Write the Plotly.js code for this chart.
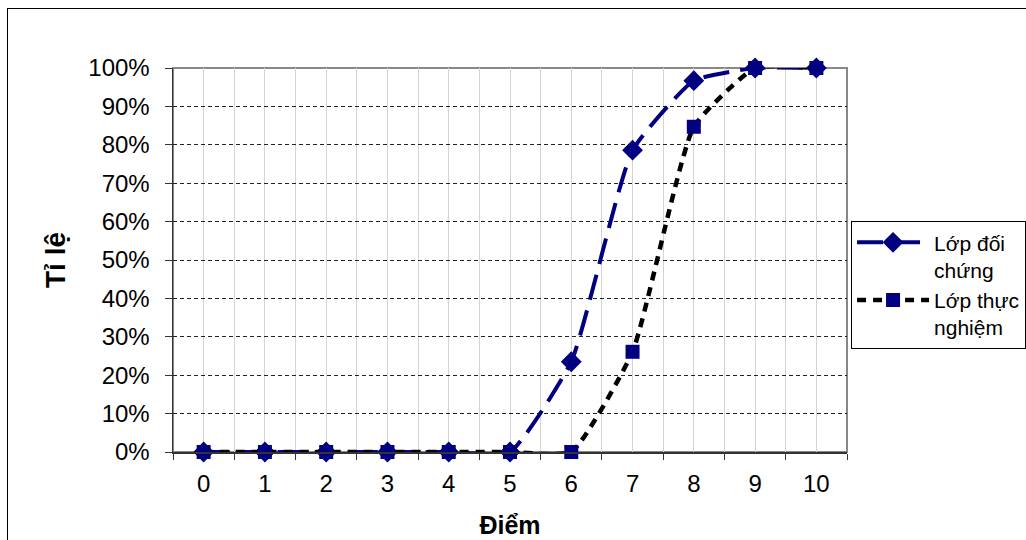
<!DOCTYPE html>
<html>
<head>
<meta charset="utf-8">
<script src="https://cdn.plot.ly/plotly-3.0.1.min.js"></script>
<style>
  html, body { margin:0; padding:0; background:#fff; overflow:hidden; }
  #wrap { position:relative; width:1026px; height:540px; }
  #chart { position:absolute; left:0; top:0; width:1026px; height:540px; }
  #frame { position:absolute; left:7px; top:8px; width:1030px; height:540px; border:1px solid #000; pointer-events:none; }
</style>
</head>
<body>
<div id="wrap"><div id="chart"></div><div id="frame"></div></div>
<script>
const categories = [0, 1, 2, 3, 4, 5, 6, 7, 8, 9, 10];
const seriesNames = ["Lớp đối<br>chứng", "Lớp thực<br>nghiệm"];
const doiChung = [0, 0, 0, 0, 0, 0, 0.235, 0.786, 0.967, 1, 1];
const thucNghiem = [0, 0, 0, 0, 0, 0, 0, 0.261, 0.847, 1, 1];
const yTicks = [0, 0.1, 0.2, 0.3, 0.4, 0.5, 0.6, 0.7, 0.8, 0.9, 1];
const xTitle = "Điểm";
const yTitle = "Tỉ lệ";

const font = "Liberation Sans, Arial, sans-serif";

const traces = [
  {
    x: categories, y: doiChung, name: seriesNames[0], type: "scatter", mode: "lines+markers",
    line: { color: "#000080", width: 4, dash: "26px,11px", shape: "spline", smoothing: 0.45 },
    marker: { symbol: "diamond", size: 16, color: "#000080" },
    cliponaxis: false
  },
  {
    x: categories, y: thucNghiem, name: seriesNames[1], type: "scatter", mode: "lines+markers",
    line: { color: "#000000", width: 4.5, dash: "9px,7px", shape: "spline", smoothing: 0.45 },
    marker: { symbol: "square", size: 14, color: "#000080" },
    cliponaxis: false
  }
];

const layout = {
  width: 1026, height: 540,
  margin: { l: 173, r: 179, t: 68, b: 88, autoexpand: false },
  paper_bgcolor: "#fff", plot_bgcolor: "#fff",
  font: { family: font, color: "#000", size: 24 },
  showlegend: true,
  legend: {
    x: 1.006, y: 0.601, xanchor: "left", yanchor: "top",
    bordercolor: "#000", borderwidth: 1, bgcolor: "#fff",
    font: { family: font, size: 21, color: "#000" },
    itemwidth: 72, tracegroupgap: 0, valign: "top"
  },
  xaxis: {
    range: [-0.5, 10.5], tickvals: categories, ticktext: categories.map(String),
    ticks: "", showgrid: true, gridcolor: "#d4d4d4", gridwidth: 1,
    showline: true, linecolor: "#333", linewidth: 1.5,
    zeroline: false, ticklabelstandoff: 10, automargin: false,
    tickfont: { family: font, size: 24 },
    minor: { tick0: 0.5, dtick: 1, ticks: "outside", ticklen: 6, tickcolor: "#333", showgrid: true, gridcolor: "#d4d4d4", gridwidth: 1 },
    title: { text: "<b>" + xTitle + "</b>", font: { family: font, size: 25 }, standoff: 20 },
    fixedrange: true
  },
  yaxis: {
    range: [0, 1], tickvals: yTicks, tickformat: ".0%",
    ticks: "outside", ticklen: 7, tickcolor: "#333",
    showgrid: true, gridcolor: "#222", griddash: "4px,3px", gridwidth: 1,
    showline: true, linecolor: "#333", linewidth: 1.5, zeroline: false,
    ticklabelstandoff: 10, automargin: false,
    tickfont: { family: font, size: 24 },
    title: { text: "<b>" + yTitle + "</b>", font: { family: font, size: 28 }, standoff: 14 },
    fixedrange: true
  },
  shapes: [
    { type: "rect", xref: "paper", yref: "paper", x0: 0, x1: 1, y0: 0, y1: 1,
      line: { color: "#888", width: 2 }, layer: "below" }
  ]
};

Plotly.newPlot("chart", traces, layout, { displayModeBar: false, staticPlot: true });
</script>
</body>
</html>
